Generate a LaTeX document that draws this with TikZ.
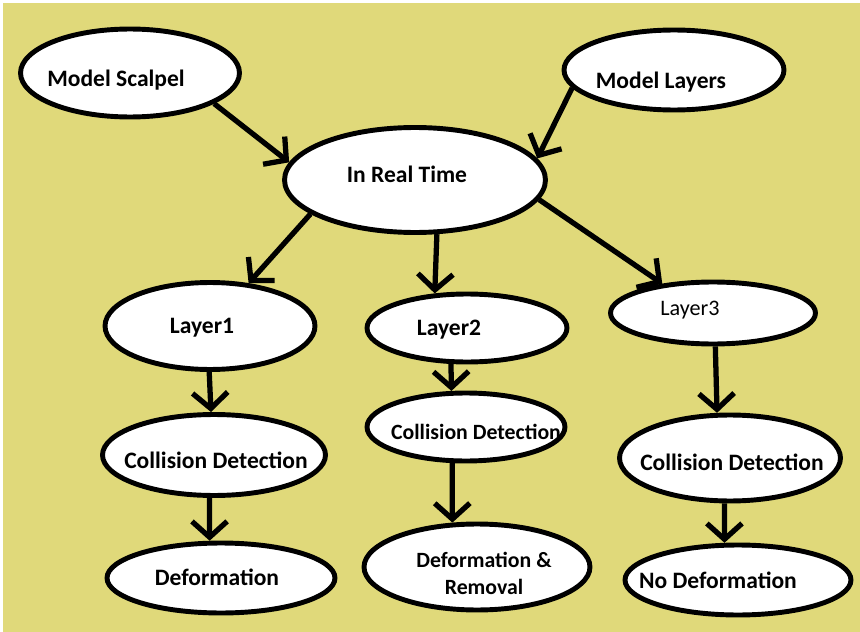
\documentclass[tikz,border=0pt]{standalone}
\usepackage{fontspec}
\setmainfont{Carlito}
\usetikzlibrary{shapes.geometric,arrows.meta}

\begin{document}
\begin{tikzpicture}[x=0.02cm,y=-0.02cm,
    ell/.style={ellipse, draw, fill=white, line width=2.8pt, inner sep=0pt},
    lbl/.style={font=\bfseries\fontsize{13.4}{15.3}\selectfont, align=center},
    sml/.style={font=\bfseries\fontsize{12.4}{15.3}\selectfont, align=center},
    arr/.style={line width=3pt, -{Straight Barb[length=9pt,width=20pt]}}]
            \definecolor{bgyellow}{RGB}{224,217,122}
            \useasboundingbox (0,0) rectangle (860,632);
            \fill[bgyellow] (3,3) rectangle (860,632);
            \node [ell, minimum width=4.38cm, minimum height=1.76cm,
            label={[lbl, shift={(-14,7)}]center:Model Scalpel}] (ms) at (130,73) {};
            \node [ell, minimum width=4.40cm, minimum height=1.60cm,
            label={[lbl, shift={(-13,12)}]center:Model Layers}] (ml) at (674,70) {};
            \node [ell, minimum width=5.22cm, minimum height=2.10cm,
            label={[lbl, shift={(-8,-6)}]center:In Real Time}] (irt) at (415,180) {};
            \node [ell, minimum width=4.20cm, minimum height=1.74cm,
            label={[lbl, shift={(-8,2)}]center:Layer1}] (l1) at (210,326) {};
            \node [ell, minimum width=4.00cm, minimum height=1.36cm,
            label={[lbl, shift={(-18,2)}]center:Layer2}] (l2) at (467,328) {};
            \node [ell, minimum width=4.10cm, minimum height=1.24cm,
            label={[font=\fontsize{12.6}{15}\selectfont, shift={(-23,-3)}]center:Layer3}] (l3) at (713,313) {};
            \node [ell, minimum width=4.46cm, minimum height=1.62cm,
            label={[lbl, shift={(2,5)}]center:Collision Detection}] (cd1) at (214,455) {};
            \node [ell, minimum width=3.96cm, minimum height=1.36cm,
            label={[sml, shift={(10,5)}]center:Collision Detection}] (cd2) at (466,427) {};
            \node [ell, minimum width=4.42cm, minimum height=1.72cm,
            label={[lbl, shift={(2,4)}]center:Collision Detection}] (cd3) at (730,458) {};
            \node [ell, minimum width=4.56cm, minimum height=1.40cm,
            label={[lbl, shift={(-4,-1)}]center:Deformation}] (d1) at (221,578) {};
            \node [ell, minimum width=4.52cm, minimum height=1.72cm,
            label={[sml, shift={(7,6)}]center:Deformation \&\\Removal}] (d2) at (477,567) {};
            \node [ell, minimum width=4.52cm, minimum height=1.40cm,
            label={[lbl, shift={(-20,0)}]center:No Deformation}] (d3) at (738,580) {};
            \draw [arr] (ms.-20) -- (irt.172);
            \draw [arr] (ml.-170) -- (irt.10);
            \draw [arr] (irt.198) -- (l1.48);
            \draw [arr] (irt.-68) -- (l2.133);
            \draw [arr] (irt.-9) -- (l3.150);
            \draw [arr] (l1.-91) -- (cd1.94);
            \draw [arr] (cd1.-96) -- (d1.107);
            \draw [arr] (l2.-114) -- (cd2.112);
            \draw [arr] (cd2.-111) -- (d2.119);
            \draw [arr] (l3.-86) -- (cd3.106);
            \draw [arr] (cd3.-97) -- (d3.110);
        \end{tikzpicture}
\end{document}
